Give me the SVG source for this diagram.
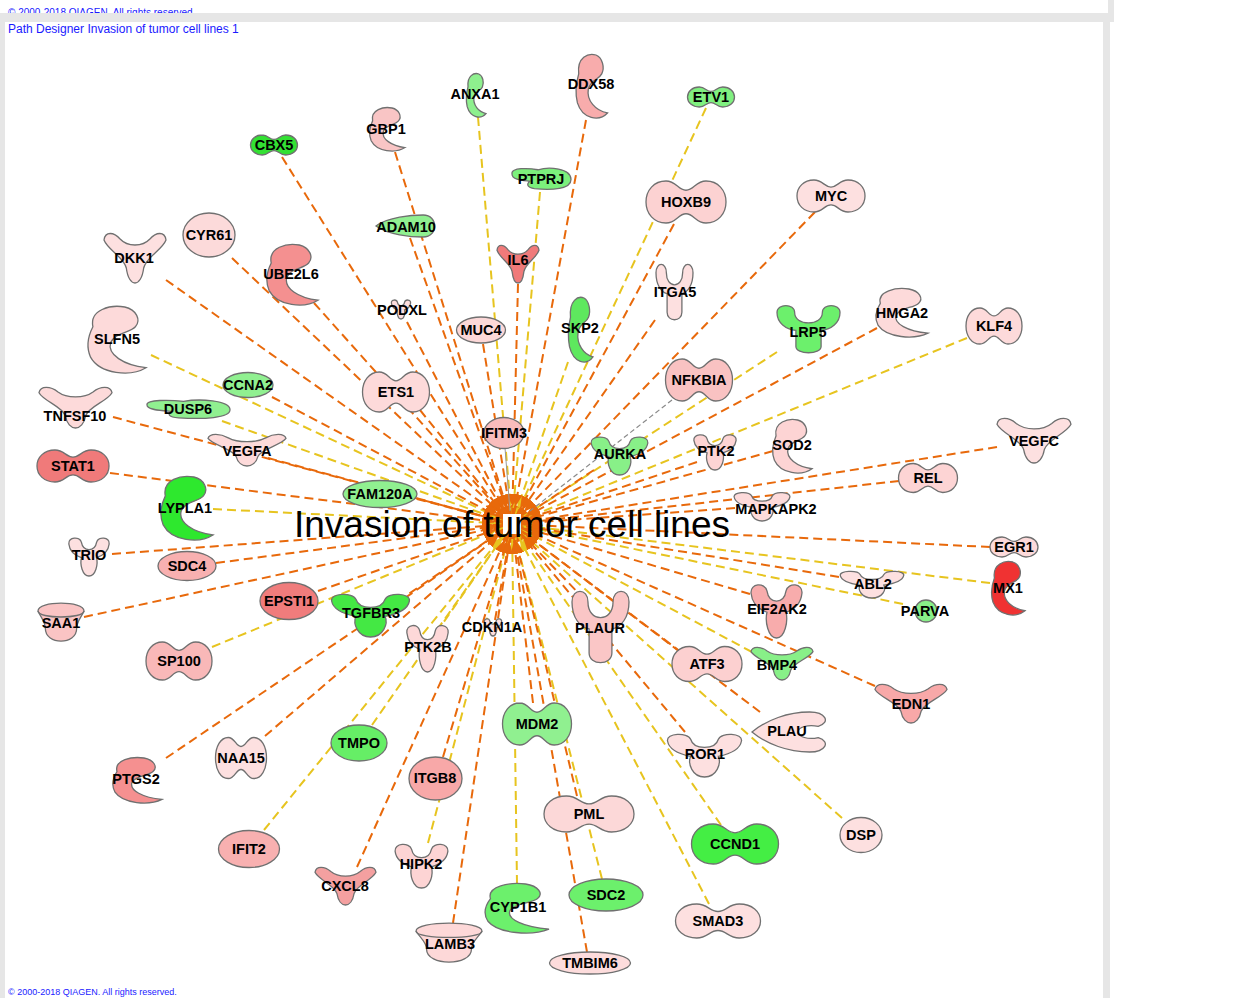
<svg xmlns="http://www.w3.org/2000/svg" xmlns:xlink="http://www.w3.org/1999/xlink" width="1235" height="998" viewBox="0 0 1235 998">
<style>
.l{font-family:"Liberation Sans",Arial,sans-serif;font-weight:bold;font-size:14.5px;text-anchor:middle;fill:#000}
.c line{fill:none;stroke-width:2;stroke-dasharray:9 5}
.o{stroke:#e8690b;marker-end:url(#ao)}
.y{stroke:#e7c41f;marker-end:url(#ay)}
.e{stroke:#707070;stroke-width:1.3}
.cp{font-family:"Liberation Sans",Arial,sans-serif;fill:#1a1aff}
.fr{fill:#e6e6e6}
</style>
<defs>
<marker id="ao" markerUnits="userSpaceOnUse" markerWidth="13" markerHeight="10" viewBox="0 0 13 10" refX="30" refY="5" orient="auto"><path d="M0,0L13,5L0,10z" fill="#e8690b"/></marker>
<marker id="ay" markerUnits="userSpaceOnUse" markerWidth="13" markerHeight="10" viewBox="0 0 13 10" refX="30" refY="5" orient="auto"><path d="M0,0L13,5L0,10z" fill="#e7c41f"/></marker>
<path id="D" stroke="#707070" stroke-width="1.3" vector-effect="non-scaling-stroke" d="M-25,-50C-12,-50-10,-28 0,-28C10,-28 12,-50 25,-50C40,-50 50,-28 50,0C50,28 40,50 25,50C12,50 10,28 0,28C-10,28-12,50-25,50C-40,50-50,28-50,0C-50,-28-40,-50-25,-50Z"/>
<path id="V" stroke="#707070" stroke-width="1.3" vector-effect="non-scaling-stroke" d="M-50,-36C-48,-54-34,-52-24,-38C-12,-22 12,-22 24,-38C34,-52 48,-54 50,-36C44,-16 18,-2 14,20C10,60-10,60-14,20C-18,-2-44,-16-50,-36Z"/>
<path id="K" stroke="#707070" stroke-width="1.3" vector-effect="non-scaling-stroke" d="M-48,-30C-50,-48-22,-50-18,-34C-16,-22-10,-16 0,-16C10,-16 16,-22 18,-34C22,-50 50,-48 48,-30C46,-10 30,0 18,4C22,20 16,50 0,50C-16,50-22,20-18,4C-30,0-46,-10-48,-30Z"/>
<path id="Y" stroke="#707070" stroke-width="1.3" vector-effect="non-scaling-stroke" d="M-50,-36C-50,-56-22,-56-22,-36C-22,-22-12,-14 0,-14C12,-14 22,-22 22,-36C22,-56 50,-56 50,-36C50,-14 36,0 20,2L20,36C20,54-20,54-20,36L-20,2C-36,0-50,-14-50,-36Z"/>
<path id="C" stroke="#707070" stroke-width="1.3" vector-effect="non-scaling-stroke" d="M-40,-20C-46,-46-10,-54 14,-50C34,-46 42,-30 32,-20C22,-10-2,-12-10,4C-16,22 12,38 50,42C24,56-28,52-44,26C-52,10-48,-6-40,-20Z"/>
<path id="P" stroke="#707070" stroke-width="1.3" vector-effect="non-scaling-stroke" d="M-50,-20C-52,-48-22,-46-6,-38C12,-52 50,-46 50,4C50,46 18,52-12,44C-24,40-26,26-20,12C-32,8-50,6-50,-20Z"/>
<path id="L" stroke="#707070" stroke-width="1.3" vector-effect="non-scaling-stroke" d="M-50,0C-30,-40 10,-50 30,-50C56,-50 56,50 30,50C10,50-30,40-50,0Z"/>
<g id="T" stroke="#707070" stroke-width="1.3"><path vector-effect="non-scaling-stroke" d="M-50,-30C-50,-56 50,-56 50,-30C44,-14 34,-4 34,14C34,56-34,56-34,14C-34,-4-44,-14-50,-30Z"/><path fill="none" vector-effect="non-scaling-stroke" d="M-50,-30C-50,-10 50,-10 50,-30"/></g>
<path id="Q" stroke="#707070" stroke-width="1.3" vector-effect="non-scaling-stroke" d="M-50,0C-30,-30 0,-50 30,-50C52,-50 60,-24 42,-14C28,-20 14,-12 14,0C14,12 28,20 42,14C60,24 52,50 30,50C0,50-30,30-50,0Z"/>
</defs>
<rect x="0" y="0" width="1235" height="998" fill="#fff"/>
<text class="cp" x="8" y="16" font-size="10">© 2000-2018 QIAGEN. All rights reserved.</text>
<text class="cp" x="8" y="995" font-size="9">© 2000-2018 QIAGEN. All rights reserved.</text>
<rect class="fr" x="0" y="13" width="1113" height="9"/>
<rect class="fr" x="1108" y="0" width="6" height="22"/>
<rect class="fr" x="1103" y="22" width="7" height="976"/>
<rect class="fr" x="0" y="22" width="5" height="976"/>
<text class="cp" x="8" y="33" font-size="12">Path Designer Invasion of tumor cell lines 1</text>
<circle cx="512" cy="524" r="19" fill="#e8690b"/>
<g id="connectors" class="c">
<line class="y" x1="478" y1="117" x2="512" y2="524"/>
<line class="y" x1="706" y1="108" x2="512" y2="524"/>
<line class="y" x1="540" y1="192" x2="512" y2="524"/>
<line class="y" x1="568" y1="362" x2="512" y2="524"/>
<line class="y" x1="151" y1="355" x2="512" y2="524"/>
<line class="y" x1="222" y1="421" x2="512" y2="524"/>
<line class="y" x1="213" y1="509" x2="512" y2="524"/>
<line class="y" x1="777" y1="352" x2="512" y2="524"/>
<line class="y" x1="967" y1="338" x2="512" y2="524"/>
<line class="y" x1="990" y1="583" x2="512" y2="524"/>
<line class="y" x1="903" y1="604" x2="512" y2="524"/>
<line class="y" x1="752" y1="652" x2="512" y2="524"/>
<line class="y" x1="842" y1="818" x2="512" y2="524"/>
<line class="y" x1="721" y1="825" x2="512" y2="524"/>
<line class="y" x1="709" y1="904" x2="512" y2="524"/>
<line class="y" x1="602" y1="879" x2="512" y2="524"/>
<line class="y" x1="517" y1="884" x2="512" y2="524"/>
<line class="y" x1="428" y1="843" x2="512" y2="524"/>
<line class="y" x1="264" y1="830" x2="512" y2="524"/>
<line class="y" x1="372" y1="725" x2="512" y2="524"/>
<line class="y" x1="212" y1="647" x2="512" y2="524"/>
<line class="y" x1="437" y1="630" x2="512" y2="524"/>
<line class="o" x1="282" y1="157" x2="512" y2="524"/>
<line class="o" x1="395" y1="152" x2="512" y2="524"/>
<line class="o" x1="586" y1="120" x2="512" y2="524"/>
<line class="o" x1="674" y1="224" x2="512" y2="524"/>
<line class="o" x1="815" y1="212" x2="512" y2="524"/>
<line class="o" x1="518" y1="284" x2="512" y2="524"/>
<line class="o" x1="410" y1="238" x2="512" y2="524"/>
<line class="o" x1="232" y1="258" x2="512" y2="524"/>
<line class="o" x1="166" y1="280" x2="512" y2="524"/>
<line class="o" x1="314" y1="303" x2="512" y2="524"/>
<line class="o" x1="407" y1="322" x2="512" y2="524"/>
<line class="o" x1="483" y1="344" x2="512" y2="524"/>
<line class="o" x1="655" y1="320" x2="512" y2="524"/>
<line class="o" x1="420" y1="410" x2="512" y2="524"/>
<line class="o" x1="113" y1="417" x2="512" y2="524"/>
<line class="o" x1="272" y1="397" x2="512" y2="524"/>
<line class="o" x1="268" y1="458" x2="512" y2="524"/>
<line class="o" x1="110" y1="473" x2="512" y2="524"/>
<line class="o" x1="417" y1="499" x2="512" y2="524"/>
<line class="o" x1="594" y1="470" x2="512" y2="524"/>
<line class="o" x1="877" y1="328" x2="512" y2="524"/>
<line class="o" x1="697" y1="462" x2="512" y2="524"/>
<line class="o" x1="773" y1="451" x2="512" y2="524"/>
<line class="o" x1="997" y1="447" x2="512" y2="524"/>
<line class="o" x1="899" y1="481" x2="512" y2="524"/>
<line class="o" x1="735" y1="508" x2="512" y2="524"/>
<line class="o" x1="990" y1="547" x2="512" y2="524"/>
<line class="o" x1="839" y1="577" x2="512" y2="524"/>
<line class="o" x1="750" y1="594" x2="512" y2="524"/>
<line class="o" x1="875" y1="686" x2="512" y2="524"/>
<line class="o" x1="760" y1="712" x2="512" y2="524"/>
<line class="o" x1="680" y1="652" x2="512" y2="524"/>
<line class="o" x1="585" y1="600" x2="512" y2="524"/>
<line class="o" x1="685" y1="732" x2="512" y2="524"/>
<line class="o" x1="577" y1="796" x2="512" y2="524"/>
<line class="o" x1="587" y1="952" x2="512" y2="524"/>
<line class="o" x1="453" y1="923" x2="512" y2="524"/>
<line class="o" x1="443" y1="757" x2="512" y2="524"/>
<line class="o" x1="357" y1="867" x2="512" y2="524"/>
<line class="o" x1="533" y1="703" x2="512" y2="524"/>
<line class="o" x1="265" y1="736" x2="512" y2="524"/>
<line class="o" x1="166" y1="758" x2="512" y2="524"/>
<line class="o" x1="318" y1="591" x2="512" y2="524"/>
<line class="o" x1="84" y1="617" x2="512" y2="524"/>
<line class="o" x1="112" y1="554" x2="512" y2="524"/>
<line class="o" x1="216" y1="563" x2="512" y2="524"/>
<line class="o" x1="405" y1="598" x2="512" y2="524"/>
<line class="o" x1="495" y1="620" x2="512" y2="524"/>
<line x1="672" y1="400" x2="530" y2="511" stroke="#8a8a8a" style="stroke-width:1.2;stroke-dasharray:5 3"/>
<line x1="505" y1="448" x2="510" y2="511" stroke="#999" style="stroke-width:1;stroke-dasharray:none"/>
</g>
<rect x="503" y="514" width="18" height="20" fill="#fff"/>
<g id="ANXA1"><use href="#C" transform="translate(476 95.5) scale(.2 .43)" fill="#8ef08e"/><text class="l" x="475" y="99">ANXA1</text></g>
<g id="DDX58"><use href="#C" transform="translate(591.5 86.5) scale(.32 .63)" fill="#f8acac"/><text class="l" x="591" y="89">DDX58</text></g>
<g id="ETV1"><use href="#D" transform="translate(711 97) scale(.47 .20)" fill="#80f080"/><text class="l" x="711" y="102">ETV1</text></g>
<g id="CBX5"><use href="#D" transform="translate(274 145) scale(.47 .20)" fill="#33e033"/><text class="l" x="274" y="150">CBX5</text></g>
<g id="GBP1"><use href="#C" transform="translate(387 129.5) scale(.36 .43)" fill="#f9c5c5"/><text class="l" x="386" y="134">GBP1</text></g>
<g id="PTPRJ"><use href="#P" transform="translate(541.5 178.5) scale(.59 .23)" fill="#7cf07c"/><text class="l" x="541" y="184">PTPRJ</text></g>
<g id="HOXB9"><use href="#D" transform="translate(686 202) scale(.80 .42)" fill="#fcd2d2"/><text class="l" x="686" y="207">HOXB9</text></g>
<g id="MYC"><use href="#D" transform="translate(831 196) scale(.68 .32)" fill="#fde0e0"/><text class="l" x="831" y="201">MYC</text></g>
<g id="ADAM10"><use href="#L" transform="translate(405.5 226) scale(.59 .22)" fill="#90f090"/><text class="l" x="406" y="232">ADAM10</text></g>
<g id="CYR61"><ellipse class="e" cx="209" cy="235" rx="26" ry="22" fill="#fcdada"/><text class="l" x="209" y="240">CYR61</text></g>
<g id="DKK1"><use href="#V" transform="translate(135 258) scale(.62 .50)" fill="#fde0e0"/><text class="l" x="134" y="263">DKK1</text></g>
<g id="UBE2L6"><use href="#C" transform="translate(292 275) scale(.52 .60)" fill="#f49090"/><text class="l" x="291" y="279">UBE2L6</text></g>
<g id="IL6"><use href="#V" transform="translate(518 264) scale(.42 .38)" fill="#f07a7a"/><text class="l" x="518" y="265">IL6</text></g>
<g id="PODXL"><use href="#K" transform="translate(401 309) scale(.20 .20)" fill="#fddede"/><text class="l" x="402" y="315">PODXL</text></g>
<g id="MUC4"><ellipse class="e" cx="481" cy="330" rx="24.5" ry="13" fill="#fcd8d8"/><text class="l" x="481" y="335">MUC4</text></g>
<g id="SKP2"><use href="#C" transform="translate(580.5 330) scale(.25 .64)" fill="#5ee85e"/><text class="l" x="580" y="333">SKP2</text></g>
<g id="ITGA5"><use href="#Y" transform="translate(674.5 292.5) scale(.37 .55)" fill="#fde0e0"/><text class="l" x="675" y="297">ITGA5</text></g>
<g id="ETS1"><use href="#D" transform="translate(396 392) scale(.67 .40)" fill="#fddada"/><text class="l" x="396" y="397">ETS1</text></g>
<g id="SLFN5"><use href="#C" transform="translate(116.5 340) scale(.59 .66)" fill="#fddada"/><text class="l" x="117" y="344">SLFN5</text></g>
<g id="TNFSF10"><use href="#V" transform="translate(75.5 407.5) scale(.73 .41)" fill="#fddada"/><text class="l" x="75" y="421">TNFSF10</text></g>
<g id="CCNA2"><ellipse class="e" cx="248" cy="385" rx="25" ry="12.5" fill="#90f090"/><text class="l" x="248" y="390">CCNA2</text></g>
<g id="DUSP6"><use href="#P" transform="translate(188.5 409) scale(.83 .20)" fill="#90f090"/><text class="l" x="188" y="414">DUSP6</text></g>
<g id="VEGFA"><use href="#V" transform="translate(247 450) scale(.78 .32)" fill="#fddada"/><text class="l" x="247" y="456">VEGFA</text></g>
<g id="STAT1"><use href="#D" transform="translate(73 466) scale(.72 .32)" fill="#f07a7a"/><text class="l" x="73" y="471">STAT1</text></g>
<g id="LYPLA1"><use href="#C" transform="translate(186.5 508.5) scale(.53 .63)" fill="#2ee82e"/><text class="l" x="185" y="513">LYPLA1</text></g>
<g id="FAM120A"><ellipse class="e" cx="380" cy="494" rx="37" ry="13.5" fill="#90f090"/><text class="l" x="380" y="499">FAM120A</text></g>
<g id="IFITM3"><ellipse class="e" cx="504" cy="433" rx="20" ry="15.5" fill="#f9bcbc"/><text class="l" x="504" y="438">IFITM3</text></g>
<g id="NFKBIA"><use href="#D" transform="translate(699 380) scale(.67 .42)" fill="#f9c2c2"/><text class="l" x="699" y="385">NFKBIA</text></g>
<g id="AURKA"><use href="#K" transform="translate(619.5 455) scale(.59 .40)" fill="#88f088"/><text class="l" x="620" y="459">AURKA</text></g>
<g id="LRP5"><use href="#Y" transform="translate(808.5 329.5) scale(.63 .47)" fill="#6cf06c"/><text class="l" x="808" y="337">LRP5</text></g>
<g id="HMGA2"><use href="#C" transform="translate(901.5 313) scale(.53 .48)" fill="#fddada"/><text class="l" x="902" y="318">HMGA2</text></g>
<g id="KLF4"><use href="#D" transform="translate(994 326) scale(.56 .36)" fill="#fddada"/><text class="l" x="994" y="331">KLF4</text></g>
<g id="PTK2"><use href="#K" transform="translate(715 451.5) scale(.44 .37)" fill="#fdd4d4"/><text class="l" x="716" y="456">PTK2</text></g>
<g id="SOD2"><use href="#C" transform="translate(792 446.5) scale(.40 .53)" fill="#fdd4d4"/><text class="l" x="792" y="450">SOD2</text></g>
<g id="VEGFC"><use href="#V" transform="translate(1034 440.5) scale(.74 .45)" fill="#fde0e0"/><text class="l" x="1034" y="446">VEGFC</text></g>
<g id="REL"><use href="#D" transform="translate(928 478) scale(.59 .29)" fill="#fdd4d4"/><text class="l" x="928" y="483">REL</text></g>
<g id="MAPKAPK2"><use href="#K" transform="translate(762 506) scale(.58 .30)" fill="#fddada"/><text class="l" x="776" y="514">MAPKAPK2</text></g>
<g id="EGR1"><use href="#D" transform="translate(1014 547) scale(.48 .20)" fill="#fddada"/><text class="l" x="1014" y="552">EGR1</text></g>
<g id="MX1"><use href="#C" transform="translate(1008 588.5) scale(.34 .53)" fill="#f03232"/><text class="l" x="1008" y="593">MX1</text></g>
<g id="ABL2"><use href="#K" transform="translate(872 584) scale(.66 .28)" fill="#fde0e0"/><text class="l" x="873" y="589">ABL2</text></g>
<g id="PARVA"><circle class="e" cx="926" cy="611" r="11" fill="#88f088"/><text class="l" x="925" y="616">PARVA</text></g>
<g id="EIF2AK2"><use href="#K" transform="translate(776.5 610) scale(.53 .56)" fill="#f8acac"/><text class="l" x="777" y="614">EIF2AK2</text></g>
<g id="EDN1"><use href="#V" transform="translate(911 703.5) scale(.72 .39)" fill="#f8a8a8"/><text class="l" x="911" y="709">EDN1</text></g>
<g id="BMP4"><use href="#V" transform="translate(782 663.5) scale(.62 .33)" fill="#88f088"/><text class="l" x="777" y="670">BMP4</text></g>
<g id="PLAU"><use href="#Q" transform="translate(788 732) scale(.72 .40)" fill="#fde0e0"/><text class="l" x="787" y="736">PLAU</text></g>
<g id="ATF3"><use href="#D" transform="translate(707 664) scale(.70 .35)" fill="#fcd0d0"/><text class="l" x="707" y="669">ATF3</text></g>
<g id="PLAUR"><use href="#Y" transform="translate(600.5 627.5) scale(.57 .71)" fill="#fac6c6"/><text class="l" x="600" y="633">PLAUR</text></g>
<g id="ROR1"><use href="#K" transform="translate(704.5 754.5) scale(.77 .45)" fill="#fde0e0"/><text class="l" x="705" y="759">ROR1</text></g>
<g id="DSP"><ellipse class="e" cx="861" cy="835" rx="21" ry="17.5" fill="#fde0e0"/><text class="l" x="861" y="840">DSP</text></g>
<g id="CCND1"><use href="#D" transform="translate(735 844) scale(.87 .40)" fill="#44ee44"/><text class="l" x="735" y="849">CCND1</text></g>
<g id="SMAD3"><use href="#D" transform="translate(718 921) scale(.85 .34)" fill="#fde0e0"/><text class="l" x="718" y="926">SMAD3</text></g>
<g id="PML"><use href="#D" transform="translate(589 814) scale(.90 .36)" fill="#fcd8d8"/><text class="l" x="589" y="819">PML</text></g>
<g id="SDC2"><ellipse class="e" cx="606" cy="895" rx="37" ry="16" fill="#6cf06c"/><text class="l" x="606" y="900">SDC2</text></g>
<g id="TMBIM6"><ellipse class="e" cx="590" cy="963" rx="40.5" ry="11" fill="#fddcdc"/><text class="l" x="590" y="968">TMBIM6</text></g>
<g id="CYP1B1"><use href="#C" transform="translate(516.5 908.5) scale(.65 .49)" fill="#6cf06c"/><text class="l" x="518" y="912">CYP1B1</text></g>
<g id="LAMB3"><use href="#T" transform="translate(449 943.5) scale(.66 .41)" fill="#fdd8d8"/><text class="l" x="450" y="949">LAMB3</text></g>
<g id="HIPK2"><use href="#K" transform="translate(421.5 865) scale(.55 .46)" fill="#fdd4d4"/><text class="l" x="421" y="869">HIPK2</text></g>
<g id="ITGB8"><ellipse class="e" cx="435.5" cy="778.5" rx="26.5" ry="21.5" fill="#f8a8a8"/><text class="l" x="435" y="783">ITGB8</text></g>
<g id="CXCL8"><use href="#V" transform="translate(345.5 886) scale(.61 .38)" fill="#f4a0a0"/><text class="l" x="345" y="891">CXCL8</text></g>
<g id="IFIT2"><ellipse class="e" cx="249" cy="849" rx="30.5" ry="18.5" fill="#f8b0b0"/><text class="l" x="249" y="854">IFIT2</text></g>
<g id="MDM2"><use href="#D" transform="translate(537 724) scale(.69 .42)" fill="#90f090"/><text class="l" x="537" y="729">MDM2</text></g>
<g id="TMPO"><ellipse class="e" cx="359" cy="743" rx="28" ry="18" fill="#66ee66"/><text class="l" x="359" y="748">TMPO</text></g>
<g id="NAA15"><use href="#D" transform="translate(241 758) scale(.51 .41)" fill="#fde0e0"/><text class="l" x="241" y="763">NAA15</text></g>
<g id="PTGS2"><use href="#C" transform="translate(137 780.5) scale(.50 .45)" fill="#f59090"/><text class="l" x="136" y="784">PTGS2</text></g>
<g id="SP100"><use href="#D" transform="translate(179 661) scale(.66 .38)" fill="#f9b8b8"/><text class="l" x="179" y="666">SP100</text></g>
<g id="EPSTI1"><ellipse class="e" cx="289" cy="601" rx="29" ry="18.5" fill="#f07c7c"/><text class="l" x="289" y="606">EPSTI1</text></g>
<g id="SAA1"><use href="#T" transform="translate(61 623) scale(.46 .40)" fill="#fac4c4"/><text class="l" x="61" y="628">SAA1</text></g>
<g id="TRIO"><use href="#K" transform="translate(89 556) scale(.42 .40)" fill="#fde0e0"/><text class="l" x="89" y="560">TRIO</text></g>
<g id="SDC4"><ellipse class="e" cx="187" cy="566" rx="29" ry="14.5" fill="#f8b0b0"/><text class="l" x="187" y="571">SDC4</text></g>
<g id="TGFBR3"><use href="#K" transform="translate(370.5 614.5) scale(.81 .45)" fill="#44e844"/><text class="l" x="371" y="618">TGFBR3</text></g>
<g id="PTK2B"><use href="#K" transform="translate(427.5 647.5) scale(.43 .49)" fill="#fdd8d8"/><text class="l" x="428" y="652">PTK2B</text></g>
<g id="CDKN1A"><use href="#K" transform="translate(493 627) scale(.18 .18)" fill="#fddede"/><text class="l" x="492" y="632">CDKN1A</text></g>
<g id="hub"><text x="512" y="537" font-family="'Liberation Sans',Arial,sans-serif" font-size="37" text-anchor="middle" fill="#000">Invasion of tumor cell lines</text></g>
</svg>
